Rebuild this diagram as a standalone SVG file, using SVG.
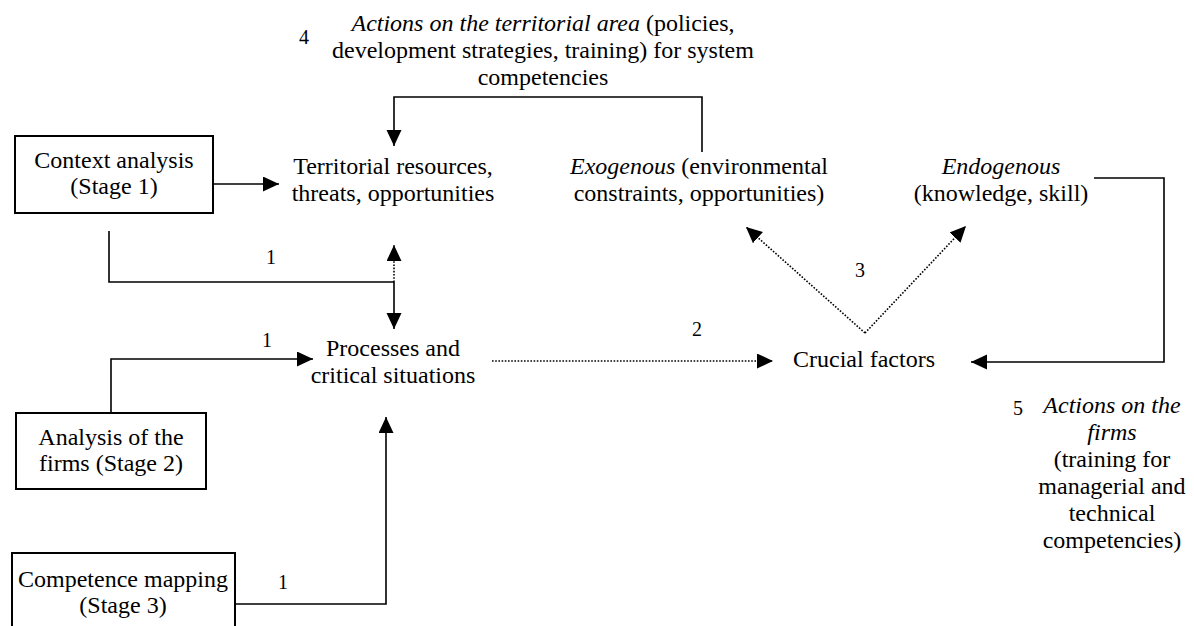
<svg xmlns="http://www.w3.org/2000/svg" width="1194" height="626" viewBox="0 0 1194 626" font-family="'Liberation Serif', 'DejaVu Serif', serif">
<style>
text{font-family:'Liberation Serif','DejaVu Serif',serif;font-size:24px;fill:#000;text-anchor:middle}
.num{font-size:20px}
.it{font-style:italic}
.box{fill:#fff;stroke:#000;stroke-width:2}
.ln{fill:none;stroke:#000;stroke-width:1.6}
.dot{fill:none;stroke:#000;stroke-width:1.6;stroke-dasharray:1.6 1.6}
</style>
<defs>
<marker id="ah" markerUnits="userSpaceOnUse" markerWidth="16" markerHeight="16" refX="16" refY="7.5" orient="auto">
<path d="M0,0 L16,7.5 L0,15 z" fill="#000"/>
</marker>
</defs>
<rect width="1194" height="626" fill="#fff"/>

<g id="connectors">
<path class="ln" d="M213,184 H279" marker-end="url(#ah)"/>
<path class="ln" d="M702,152 V97 H394 V146" marker-end="url(#ah)"/>
<path class="ln" d="M109,231 V282 H394"/>
<path class="dot" d="M394,282 V245" marker-end="url(#ah)"/>
<path class="ln" d="M394,282 V329" marker-end="url(#ah)"/>
<path class="ln" d="M111,413 V359 H313" marker-end="url(#ah)"/>
<path class="ln" d="M235,604 H386 V417" marker-end="url(#ah)"/>
<path class="dot" d="M492,361 H773" marker-end="url(#ah)"/>
<path class="dot" d="M865,333 L746,227" marker-end="url(#ah)"/>
<path class="dot" d="M865,333 L966,226" marker-end="url(#ah)"/>
<path class="ln" d="M1094,178 H1164 V362 H971" marker-end="url(#ah)"/>
<text class="num" x="271" y="264">1</text>
<text class="num" x="267" y="347">1</text>
<text class="num" x="283" y="589">1</text>
<text class="num" x="697" y="336">2</text>
<text class="num" x="860" y="277">3</text>
</g>

<g id="context">
<rect class="box" x="15" y="136" width="198" height="77"/>
<text x="114" y="168">Context analysis</text>
<text x="114" y="194">(Stage 1)</text>
</g>

<g id="firms">
<rect class="box" x="16" y="413" width="190" height="76"/>
<text x="111" y="445">Analysis of the</text>
<text x="111" y="471">firms (Stage 2)</text>
</g>

<g id="competence">
<rect class="box" x="12" y="553" width="223" height="90"/>
<text x="123" y="587">Competence mapping</text>
<text x="123" y="613">(Stage 3)</text>
</g>

<g id="territorial">
<text x="393" y="174">Territorial resources,</text>
<text x="393" y="201">threats, opportunities</text>
</g>

<g id="processes">
<text x="393" y="356">Processes and</text>
<text x="393" y="383">critical situations</text>
</g>

<g id="crucial">
<text x="864" y="367">Crucial factors</text>
</g>

<g id="exogenous">
<text x="699" y="174"><tspan class="it">Exogenous</tspan> (environmental</text>
<text x="699" y="201">constraints, opportunities)</text>
</g>

<g id="endogenous">
<text x="1001" y="174" class="it">Endogenous</text>
<text x="1001" y="201">(knowledge, skill)</text>
</g>

<g id="action4">
<text class="num" x="304" y="44">4</text>
<text x="543" y="31"><tspan class="it">Actions on the territorial area</tspan> (policies,</text>
<text x="543" y="58">development strategies, training) for system</text>
<text x="543" y="85">competencies</text>
</g>

<g id="action5">
<text class="num" x="1018" y="415">5</text>
<text x="1112" y="413" class="it">Actions on the</text>
<text x="1112" y="440" class="it">firms</text>
<text x="1112" y="467">(training for</text>
<text x="1112" y="494">managerial and</text>
<text x="1112" y="521">technical</text>
<text x="1112" y="548">competencies)</text>
</g>
</svg>
